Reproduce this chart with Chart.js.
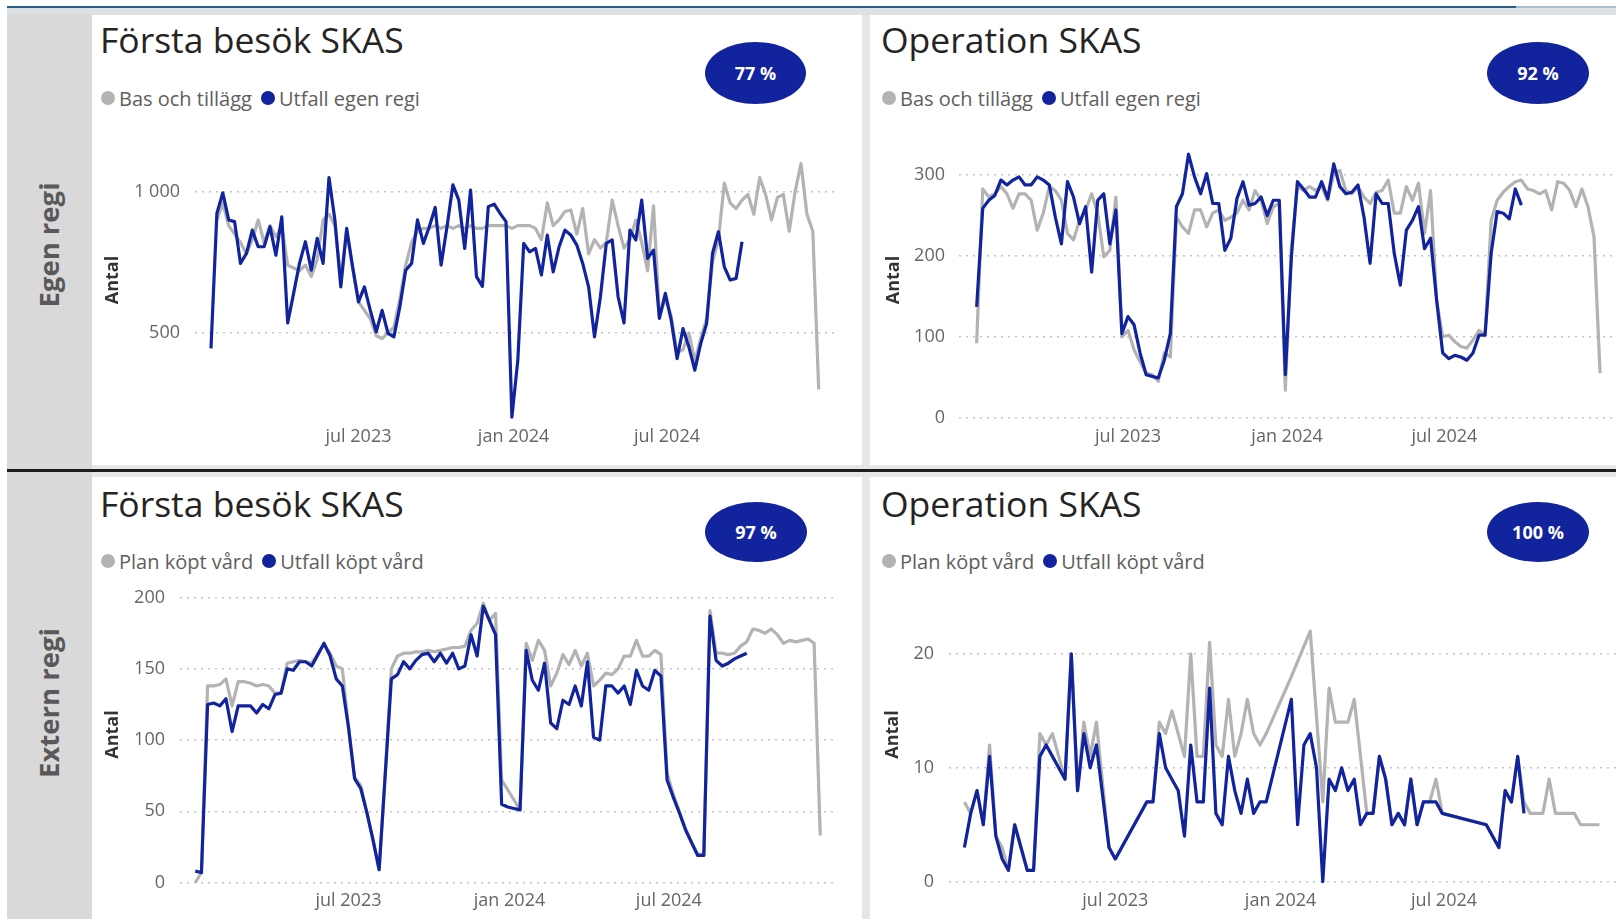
<!DOCTYPE html>
<html lang="sv">
<head>
<meta charset="UTF-8">
<title>SKAS – egen och extern regi</title>
<script src="https://cdn.jsdelivr.net/npm/chart.js"></script>
<style>
  html, body { margin: 0; padding: 0; }
  body {
    width: 1616px; height: 919px; position: relative; overflow: hidden;
    background: #e6e6e6; font-family: "Open Sans", "Noto Sans", sans-serif;
  }
  .abs { position: absolute; }
  .panel { position: absolute; background: #fff; }
  .title { position: absolute; font-size: 35.5px; line-height: 1; color: #252423; white-space: nowrap; }
  .legend { position: absolute; display: flex; align-items: center; height: 22px;
            font-size: 20px; color: #605e5c; white-space: nowrap; }
  .legend .dot { width: 14px; height: 14px; border-radius: 50%; margin-right: 4px; }
  .legend .item { display: flex; align-items: center; margin-right: 9px; }
  .badge { position: absolute; border-radius: 50%; background: #12239e; color: #fff;
           font-weight: bold; font-size: 18px; display: flex; align-items: center; justify-content: center; }
  .side { position: absolute; transform: translate(-50%, -50%) rotate(-90deg);
          white-space: nowrap; font-weight: bold; font-size: 27.5px; color: #595959; }
  canvas { position: absolute; }
</style>
</head>
<body>

<!-- frame -->
<div class="abs" style="left:0;top:0;width:1616px;height:6px;background:#fff"></div>
<div class="abs" style="left:0;top:0;width:7px;height:919px;background:#fff"></div>
<div class="abs" style="left:7px;top:6px;width:1509px;height:1.5px;background:#2b5f8a"></div>
<div class="abs" style="left:1516px;top:6px;width:100px;height:1.5px;background:#a9bfd0"></div>
<div class="abs" style="left:7px;top:7.5px;width:1609px;height:7px;background:#dde1e4"></div>
<div class="abs" style="left:7px;top:14px;width:85px;height:905px;background:#d9d9d9"></div>
<div class="abs" style="left:7px;top:469px;width:1609px;height:3px;background:#1c1c1c"></div>

<div class="panel" style="left:92px;top:15px;width:770px;height:450px"></div>
<div class="panel" style="left:870px;top:15px;width:746px;height:450px"></div>
<div class="panel" style="left:92px;top:477px;width:770px;height:442px"></div>
<div class="panel" style="left:870px;top:477px;width:746px;height:442px"></div>

<div class="side" style="left:48px;top:245px">Egen regi</div>
<div class="side" style="left:48px;top:703px">Extern regi</div>

<div class="title" style="left:100px;top:22px">Första besök SKAS</div>
<div class="title" style="left:881px;top:22px">Operation SKAS</div>
<div class="title" style="left:100px;top:486px">Första besök SKAS</div>
<div class="title" style="left:881px;top:486px">Operation SKAS</div>

<div class="legend" id="leg1" style="left:101px;top:87px"></div>
<div class="legend" id="leg2" style="left:882px;top:87px"></div>
<div class="legend" id="leg3" style="left:101px;top:550px"></div>
<div class="legend" id="leg4" style="left:882px;top:550px"></div>

<div class="badge" id="b1" style="left:705px;top:42px;width:101px;height:62px"></div>
<div class="badge" id="b2" style="left:1487px;top:42px;width:102px;height:62px"></div>
<div class="badge" id="b3" style="left:705px;top:502px;width:102px;height:60px"></div>
<div class="badge" id="b4" style="left:1487px;top:502px;width:102px;height:60px"></div>

<canvas id="c1" width="735" height="330" style="left:100px;top:130px"></canvas>
<canvas id="c2" width="759" height="330" style="left:881px;top:130px"></canvas>
<canvas id="c3" width="736" height="349" style="left:100px;top:575px"></canvas>
<canvas id="c4" width="760" height="349" style="left:880px;top:575px"></canvas>

<script>
// ---- data: one value per week, week 0 = 2023-01-07 ----
const firstWeek = '2023-01-07';
const tickDates = ['2023-07-01', '2024-01-01', '2024-07-01'];
const tickLabels = ['jul 2023', 'jan 2024', 'jul 2024'];

const egenNames = ['Bas och tillägg', 'Utfall egen regi'];
const externNames = ['Plan köpt vård', 'Utfall köpt vård'];
const percents = [77, 92, 97, 100];

// Första besök, egen regi
const forstaEgenBas = [null, 900, 960, 880, 850, 820, 780, 830, 900, 820,
  880, 840, 880, 740, 730, 720, 740, 700, 760, 900,
  920, 880, 690, 860, 730, 610, 580, 550, 490, 480,
  500, 520, 620, 740, 820, 860, 870, 870, 880, 870,
  880, 870, 880, 870, 880, 870, 870, 880, 880, 880,
  880, 870, 880, 880, 880, 870, 830, 960, 880, 900,
  930, 935, 850, 940, 780, 830, 800, 820, 970, 880,
  800, 830, 900, 820, 720, 950, 560, 620, 560, 430,
  440, 500, 400, 480, 550, 750, 830, 1030, 960, 940,
  970, 990, 920, 1050, 990, 900, 980, 990, 860, 1000,
  1100, 920, 860, 300];
const forstaEgenUtfall = [445, 923, 996, 900, 894, 746, 781, 864, 805, 805,
  876, 775, 911, 535, 640, 746, 823, 722, 835, 746,
  1050, 900, 663, 870, 734, 610, 663, 580, 504, 580,
  498, 486, 592, 722, 746, 900, 817, 876, 944, 740,
  876, 1024, 970, 799, 1006, 699, 665, 947, 956, 923,
  894, 202, 403, 817, 787, 799, 705, 846, 716, 805,
  864, 846, 811, 746, 663, 486, 628, 817, 829, 628,
  535, 864, 829, 970, 764, 793, 551, 640, 545, 409,
  515, 450, 368, 462, 533, 781, 858, 734, 687, 693,
  823];
const forstaEgenTicks = [500, 1000];

// Operation, egen regi
const operationEgenBas = [92, 283, 273, 277, 286, 277, 259, 277, 277, 269,
  232, 253, 286, 281, 269, 228, 220, 244, 257, 277,
  253, 199, 207, 273, 100, 108, 84, 69, 55, 53,
  45, 80, 75, 248, 236, 228, 257, 257, 236, 253,
  257, 244, 248, 253, 269, 257, 281, 269, 240, 261,
  265, 34, 211, 286, 281, 286, 281, 286, 269, 302,
  306, 281, 277, 286, 273, 265, 279, 281, 294, 253,
  253, 286, 269, 290, 228, 281, 145, 100, 102, 94,
  88, 86, 96, 108, 102, 244, 269, 279, 286, 292,
  294, 283, 281, 277, 281, 257, 292, 290, 281, 261,
  283, 261, 224, 55];
const operationEgenUtfall = [137, 259, 269, 275, 294, 288, 294, 298, 288, 288,
  298, 294, 288, 248, 215, 292, 273, 240, 261, 180,
  269, 277, 215, 257, 104, 125, 115, 80, 53, 51,
  49, 71, 104, 261, 277, 326, 298, 277, 302, 265,
  265, 207, 222, 271, 292, 263, 265, 273, 250, 269,
  269, 53, 199, 292, 283, 273, 273, 292, 271, 314,
  286, 277, 279, 288, 248, 191, 277, 265, 265, 203,
  164, 232, 244, 261, 209, 222, 145, 80, 73, 77,
  75, 71, 80, 102, 102, 203, 255, 253, 246, 283,
  263];
const operationEgenTicks = [0, 100, 200, 300];

// Första besök, extern regi
const forstaExternPlan = [0, 7, 138, 138, 139, 143, 124, 141, 141, 140,
  138, 139, 138, 133, 133, 154, 155, 156, 155, 154,
  161, 167, 161, 152, 150, 109, 74, 68, 49, 30,
  9, 76, 150, 159, 161, 161, 162, 162, 163, 162,
  163, 164, 165, 165, 166, 177, 182, 196, 184, 189,
  72, 65, 58, 51, 168, 156, 170, 163, 138, 147,
  160, 153, 163, 152, 161, 138, 142, 147, 146, 150,
  159, 159, 170, 159, 159, 163, 160, 77, 62, 50,
  38, 28, 20, 20, 191, 161, 161, 160, 161, 166,
  169, 178, 177, 175, 178, 174, 168, 170, 169, 170,
  171, 168, 33];
const forstaExternUtfall = [8, 7, 125, 126, 124, 129, 106, 124, 124, 124,
  119, 125, 122, 132, 133, 150, 149, 155, 155, 152,
  160, 168, 159, 143, 138, 109, 73, 66, 49, 30,
  9, 76, 143, 146, 155, 150, 156, 160, 161, 155,
  161, 154, 161, 150, 152, 174, 159, 194, 184, 174,
  55, 53, 52, 51, 163, 142, 135, 154, 112, 108,
  128, 125, 138, 124, 155, 102, 100, 138, 138, 133,
  138, 125, 149, 138, 135, 149, 145, 72, 60, 49,
  37, 28, 19, 19, 187, 156, 152, 154, 157, 159,
  161];
const forstaExternTicks = [0, 50, 100, 150, 200];

// Operation, extern regi (weeks without registrations are missing)
const operationExternPlanWeeks = [1, 2, 3, 4, 5, 6, 7, 8, 9, 10, 11, 12, 13, 14, 15, 16, 17, 18, 19, 20,
  21, 22, 24, 25, 30, 31, 32, 33, 34, 35, 36, 37, 38, 39, 40, 41, 42, 43, 44, 45,
  46, 47, 48, 49, 53, 56, 58, 59, 60, 61, 62, 63, 64, 65, 66, 67, 68, 69, 70, 71,
  72, 73, 74, 75, 76, 77, 84, 86, 87, 88, 89, 90, 91, 92, 93, 94, 95, 96, 97, 98,
  99, 100, 101, 102];
const operationExternPlan = [7, 6, 8, 5, 12, 4, 3, 1, 5, 3, 1, 1, 13, 12, 13, 11, 9, 20, 8, 14,
  11, 14, 3, 2, 7, 7, 14, 13, 15, 13, 11, 20, 11, 11, 21, 12, 11, 16, 11, 13,
  16, 13, 12, 13, 18, 22, 7, 17, 14, 14, 14, 16, 11, 6, 6, 11, 9, 5, 6, 5,
  9, 5, 7, 7, 9, 6, 5, 3, 8, 7, 11, 7, 6, 6, 6, 9, 6, 6, 6, 6,
  5, 5, 5, 5];
const operationExternUtfallWeeks = [1, 2, 3, 4, 5, 6, 7, 8, 9, 10, 11, 12, 13, 14, 15, 16, 17, 18, 19, 20,
  21, 22, 24, 25, 30, 31, 32, 33, 34, 35, 36, 37, 38, 39, 40, 41, 42, 43, 44, 45,
  46, 47, 48, 49, 53, 54, 55, 56, 57, 58, 59, 60, 61, 62, 63, 64, 65, 66, 67, 68,
  69, 70, 71, 72, 73, 74, 75, 76, 77, 84, 86, 87, 88, 89, 90];
const operationExternUtfall = [3, 6, 8, 5, 11, 4, 2, 1, 5, 3, 1, 1, 11, 12, 11, 10, 9, 20, 8, 13,
  10, 12, 3, 2, 7, 7, 13, 10, 9, 8, 4, 12, 7, 7, 17, 6, 5, 11, 8, 6,
  9, 6, 7, 7, 16, 5, 12, 13, 10, 0, 9, 8, 10, 8, 9, 5, 6, 6, 11, 9,
  5, 6, 5, 9, 5, 7, 7, 7, 6, 5, 3, 8, 7, 11, 6];
const operationExternTicks = [0, 10, 20];

// ---- drawing ----
const GRAY = '#b3b3b3';
const BLUE = '#12239e';
const FONT = "'Open Sans', 'Noto Sans', sans-serif";
Chart.defaults.font.family = FONT;

const weekOf = d => (new Date(d) - new Date(firstWeek)) / (7 * 86400000);
const fmt = v => String(v).replace(/\B(?=(\d{3})+(?!\d))/g, ' ');

function legend(id, names) {
  document.getElementById(id).innerHTML = names.map((n, i) =>
    `<span class="item"><span class="dot" style="background:${i ? BLUE : GRAY}"></span>${n}</span>`).join('');
}
legend('leg1', egenNames);
legend('leg2', egenNames);
legend('leg3', externNames);
legend('leg4', externNames);
percents.forEach((p, i) => { document.getElementById('b' + (i + 1)).textContent = p + ' %'; });

function series(label, values, weeks, color, order) {
  return {
    label,
    data: values.map((v, i) => ({ x: weeks ? weeks[i] : i, y: v })),
    borderColor: color,
    borderWidth: 3.2,
    pointRadius: 0,
    tension: 0,
    spanGaps: true,
    borderJoinStyle: 'round',
    order
  };
}

function lineChart(c) {
  new Chart(document.getElementById(c.id), {
    type: 'line',
    data: {
      datasets: [
        series(c.names[1], c.utfall, c.utfallWeeks, BLUE, 0),
        series(c.names[0], c.plan, c.planWeeks, GRAY, 1)
      ]
    },
    options: {
      responsive: false,
      animation: false,
      layout: { padding: { top: 10, right: 0, bottom: 0, left: 0 } },
      plugins: { legend: { display: false }, tooltip: { enabled: false } },
      scales: {
        x: {
          type: 'linear',
          min: c.xMin, max: c.xMax,
          grid: { display: false },
          border: { display: false },
          afterBuildTicks: s => { s.ticks = tickDates.map(d => ({ value: weekOf(d) })); },
          afterFit: s => { s.height = 40; s.paddingLeft = 0; s.paddingRight = 0; },
          ticks: {
            callback: (v, i) => tickLabels[i],
            color: '#666666', font: { size: 18 }, padding: -2,
            maxRotation: 0, autoSkip: false
          }
        },
        y: {
          min: c.yMin, max: c.yMax,
          afterBuildTicks: s => { s.ticks = c.yTicks.map(v => ({ value: v })); },
          afterFit: s => { s.width = c.yWidth; s.paddingTop = 0; s.paddingBottom = 0; },
          grid: { color: '#c4c4c4', lineWidth: 1.5, drawTicks: false },
          border: { display: false, dash: [2, 5] },
          ticks: { callback: v => fmt(v), color: '#666666', font: { size: 18 }, padding: c.labelPad },
          title: {
            display: true, text: 'Antal', color: '#333333',
            font: { size: 18, weight: 'bold' }, padding: { top: 2, bottom: 0 }
          }
        }
      }
    }
  });
}

lineChart({ id: 'c1', names: egenNames, plan: forstaEgenBas, utfall: forstaEgenUtfall,
  yTicks: forstaEgenTicks, yMin: 191.6, yMax: 1183, xMin: -2.71, xMax: 105.76, yWidth: 95, labelPad: 15 });
lineChart({ id: 'c2', names: egenNames, plan: operationEgenBas, utfall: operationEgenUtfall,
  yTicks: operationEgenTicks, yMin: -3, yMax: 343.6, xMin: -2.92, xMax: 109.6, yWidth: 78, labelPad: 14 });
lineChart({ id: 'c3', names: externNames, plan: forstaExternPlan, utfall: forstaExternUtfall,
  yTicks: forstaExternTicks, yMin: -1.05, yMax: 208.9, xMin: -2.5, xMax: 104.57, yWidth: 80, labelPad: 15 });
lineChart({ id: 'c4', names: externNames,
  plan: operationExternPlan, planWeeks: operationExternPlanWeeks,
  utfall: operationExternUtfall, utfallWeeks: operationExternUtfallWeeks,
  yTicks: operationExternTicks, yMin: -0.2, yMax: 26.04, xMin: -1.45, xMax: 108.45, yWidth: 69, labelPad: 15 });
</script>
</body>
</html>
